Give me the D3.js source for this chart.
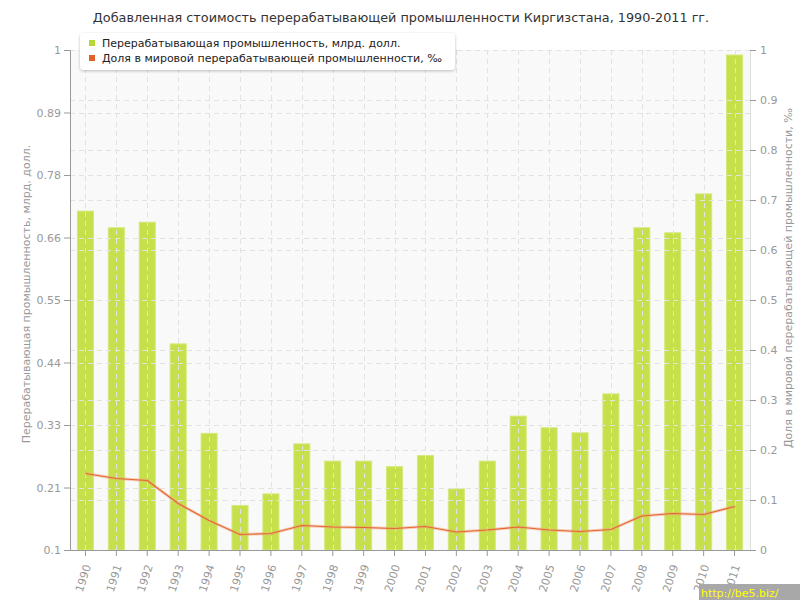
<!DOCTYPE html>
<html><head><meta charset="utf-8">
<script src="https://cdn.jsdelivr.net/npm/d3@7"></script>
<style>
body{margin:0;background:#fff;}
text{font-family:"DejaVu Sans",Verdana,sans-serif;}
</style></head>
<body><svg id="c" width="800" height="600"></svg>
<script>
const years = ["1990","1991","1992","1993","1994","1995","1996","1997","1998","1999","2000","2001","2002","2003","2004","2005","2006","2007","2008","2009","2010","2011"];
const valueAdded = [0.710,0.680,0.690,0.471,0.310,0.180,0.201,0.291,0.260,0.260,0.250,0.270,0.210,0.260,0.341,0.320,0.311,0.381,0.680,0.671,0.741,0.991];
const worldShare = [0.153,0.143,0.139,0.093,0.059,0.031,0.033,0.049,0.046,0.045,0.043,0.047,0.036,0.040,0.046,0.040,0.037,0.041,0.068,0.073,0.071,0.087];
const leftTicks = [0.1,0.2125,0.325,0.4375,0.55,0.6625,0.775,0.8875,1];
const leftTickLabels = ["0.1","0.21","0.33","0.44","0.55","0.66","0.78","0.89","1"];
const rightTicks = [0,0.1,0.2,0.3,0.4,0.5,0.6,0.7,0.8,0.9,1];
const rightTickLabels = ["0","0.1","0.2","0.3","0.4","0.5","0.6","0.7","0.8","0.9","1"];
const title = "Добавленная стоимость перерабатывающей промышленности Киргизстана, 1990-2011 гг.";
const seriesNames = ["Перерабатывающая промышленность, млрд. долл.","Доля в мировой перерабатывающей промышленности, ‰"];
const leftTitle = "Перерабатывающая промышленность, млрд. долл.";
const rightTitle = "Доля в мировой перерабатывающей промышленности, ‰";

const svg = d3.select("#c");
const L = 70, R = 750, T = 50, B = 550;
const x = d3.scaleBand().domain(years).range([L, R]).paddingInner(0.48).paddingOuter(0.24);
const yL = d3.scaleLinear().domain([0.1, 1]).range([B, T]);
const yR = d3.scaleLinear().domain([0, 1]).range([B, T]);
const cx = d => x(d) + x.bandwidth() / 2;

const defs = svg.append("defs");
const f = defs.append("filter").attr("id","sh").attr("x","-10%").attr("y","-30%").attr("width","120%").attr("height","170%");
f.append("feDropShadow").attr("dx",0).attr("dy",1).attr("stdDeviation",1.5).attr("flood-color","#000").attr("flood-opacity",0.25);

// background
svg.append("rect").attr("x",L).attr("y",T).attr("width",R-L).attr("height",B-T).attr("fill","#f9f9f9");

// bars
svg.append("g").selectAll("rect").data(years).join("rect")
  .attr("x", d => x(d)).attr("width", x.bandwidth())
  .attr("y", (d,i) => yL(valueAdded[i])).attr("height", (d,i) => B - yL(valueAdded[i]))
  .attr("fill","#c6e04c").attr("stroke","#d3e97c").attr("stroke-width",1);

// grid
const grid = svg.append("g").attr("stroke","#e2e2e2").attr("stroke-dasharray","5,4").attr("stroke-width",1);
grid.selectAll("line.v").data(years).join("line").attr("class","v")
  .attr("x1", d => Math.round(cx(d))+0.5).attr("x2", d => Math.round(cx(d))+0.5).attr("y1",T).attr("y2",B);
grid.selectAll("line.hl").data(leftTicks.slice(1)).join("line").attr("class","hl")
  .attr("x1",L).attr("x2",R).attr("y1", d => Math.round(yL(d))+0.5).attr("y2", d => Math.round(yL(d))+0.5);
grid.selectAll("line.hr").data(rightTicks.slice(1)).join("line").attr("class","hr")
  .attr("x1",L).attr("x2",R).attr("y1", d => Math.round(yR(d))+0.5).attr("y2", d => Math.round(yR(d))+0.5);

// right border
svg.append("line").attr("x1",R+0.5).attr("x2",R+0.5).attr("y1",T).attr("y2",B).attr("stroke","#dddddd");

// line
const lineGen = d3.line().x((d,i) => cx(years[i])).y(d => yR(d));
svg.append("path").datum(worldShare).attr("d", lineGen).attr("fill","none").attr("stroke","#f0a07a").attr("stroke-opacity",0.5).attr("stroke-width",3);
svg.append("path").datum(worldShare).attr("d", lineGen).attr("fill","none").attr("stroke","#e5672d").attr("stroke-width",1.2);

// axes
const axisColor = "#999", labelColor = "#999";
const gL = svg.append("g").attr("transform",`translate(${L},0)`)
  .call(d3.axisLeft(yL).tickValues(leftTicks).tickFormat((d,i) => leftTickLabels[i]).tickSize(6).tickPadding(3));
const gR = svg.append("g").attr("transform",`translate(${R},0)`)
  .call(d3.axisRight(yR).tickValues(rightTicks).tickFormat((d,i) => rightTickLabels[i]).tickSize(6).tickPadding(4));
const gB = svg.append("g").attr("transform",`translate(0,${B})`)
  .call(d3.axisBottom(x).tickSize(6).tickPadding(4));
[gL,gR,gB].forEach(g => {
  g.selectAll("text").attr("fill",labelColor).attr("font-size",11).attr("font-family","DejaVu Sans");
  g.selectAll("line").attr("stroke",axisColor);
  g.select(".domain").attr("stroke",axisColor);
});
gR.select(".domain").remove();
gB.select(".domain").attr("d",`M${L},0.5H${R+5}`);
gB.selectAll("text").attr("y",null).attr("dy","0.35em").attr("text-anchor","end")
  .attr("transform","translate(2,15) rotate(-72)");
gL.select(".domain").attr("d",`M-6,${T}.5H0.5V${B}.5`);

// axis titles
svg.append("text").attr("transform",`translate(30,294) rotate(-90)`).attr("text-anchor","middle")
  .attr("fill","#999").attr("font-size",11).text(leftTitle);
svg.append("text").attr("transform",`translate(792,278) rotate(-90)`).attr("text-anchor","middle")
  .attr("fill","#999").attr("font-size",11).text(rightTitle);

// title
svg.append("text").attr("x",401).attr("y",22).attr("text-anchor","middle").attr("fill","#333").attr("font-size",12.8).text(title);

// legend
const lg = svg.append("g");
lg.append("rect").attr("x",80).attr("y",33).attr("width",375).attr("height",37).attr("rx",4).attr("fill","#fff").attr("filter","url(#sh)");
const legColors = ["#b5d934","#e2622a"];
seriesNames.forEach((s,i) => {
  lg.append("rect").attr("x",89).attr("y",40+i*15).attr("width",6).attr("height",6).attr("fill",legColors[i]);
  lg.append("text").attr("x",102).attr("y",47+i*15).attr("fill","#222").attr("font-size",11).text(s);
});

// watermark
svg.append("rect").attr("x",699).attr("y",584).attr("width",101).attr("height",16).attr("fill","#a8a8a8");
svg.append("text").attr("x",701).attr("y",597).attr("fill","#ffff00").attr("font-size",11).attr("font-family","DejaVu Sans Mono").text("http://be5.biz/");
</script></body></html>
